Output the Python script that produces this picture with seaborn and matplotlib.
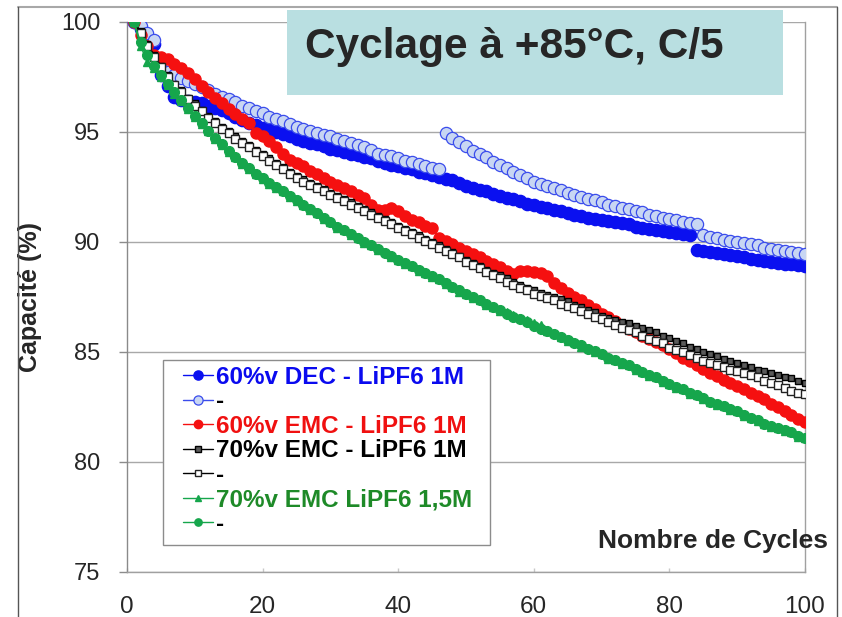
import numpy as np
import matplotlib
matplotlib.use("Agg")
import matplotlib.pyplot as plt
from matplotlib.patches import Rectangle
from matplotlib.lines import Line2D
import seaborn as sns

cycles = list(range(1, 101))

dec_1m = [
    100.0, 99.7, 99.3, 99.0, 97.6, 97.1, 96.6, 96.45, 96.4, 96.35,
    96.3, 96.2, 96.1, 96.0, 95.85, 95.7, 95.55, 95.4, 95.3, 95.2,
    95.1, 95.0, 94.9, 94.8, 94.7, 94.6, 94.5, 94.45, 94.35, 94.25,
    94.2, 94.1, 94.0, 93.95, 93.85, 93.8, 93.7, 93.6, 93.5, 93.45,
    93.35, 93.3, 93.2, 93.15, 93.05, 92.95, 92.85, 92.8, 92.7, 92.55,
    92.45, 92.35, 92.3, 92.2, 92.1, 92.0, 91.95, 91.85, 91.75, 91.7,
    91.6, 91.55, 91.45, 91.4, 91.3, 91.25, 91.2, 91.1, 91.05, 91.0,
    90.95, 90.9, 90.85, 90.8, 90.7, 90.65, 90.6, 90.55, 90.5, 90.45,
    90.4, 90.35, 90.3, 89.65, 89.6, 89.55, 89.5, 89.45, 89.4, 89.35,
    89.3, 89.25, 89.2, 89.15, 89.1, 89.05, 89.0, 89.0, 88.95, 88.9,
]
dec_open = [
    100.0, 99.8, 99.5, 99.2, 97.9, 97.75, 97.6, 97.45, 97.3, 97.2,
    97.05, 96.9, 96.75, 96.6, 96.5, 96.35, 96.2, 96.1, 95.95, 95.85,
    95.7, 95.6, 95.5, 95.35, 95.25, 95.15, 95.05, 94.95, 94.85, 94.8,
    94.7, 94.6, 94.5, 94.4, 94.3, 94.2, 94.0, 93.95, 93.9, 93.8,
    93.7, 93.65, 93.55, 93.45, 93.35, 93.3, 94.95, 94.75, 94.55, 94.35,
    94.15, 94.0, 93.85, 93.65, 93.5, 93.35, 93.2, 93.05, 92.9, 92.75,
    92.65, 92.55, 92.45, 92.35, 92.25, 92.15, 92.05, 91.95, 91.9, 91.8,
    91.7, 91.65, 91.55, 91.5, 91.4, 91.35, 91.25, 91.2, 91.1, 91.05,
    91.0, 90.9, 90.85, 90.8, 90.3, 90.25, 90.2, 90.1, 90.05, 90.0,
    89.95, 89.9, 89.85, 89.75, 89.7, 89.65, 89.6, 89.55, 89.5, 89.45,
]
emc60_1m = [
    100.0, 99.4, 98.9, 98.5, 98.4, 98.3, 98.1, 97.9, 97.7, 97.4,
    97.1, 96.8, 96.55, 96.3, 96.05, 95.8, 95.6, 95.4, 94.95, 94.8,
    94.6, 94.3, 94.0, 93.75, 93.6, 93.45, 93.25, 93.1, 92.9, 92.75,
    92.6, 92.45, 92.3, 92.15, 92.0, 91.7, 91.45, 91.45, 91.55, 91.4,
    91.2, 91.0, 90.9, 90.75, 90.65, 90.2, 90.05, 89.9, 89.75, 89.6,
    89.45, 89.3, 89.15, 89.0, 88.85, 88.7, 88.55, 88.7, 88.7, 88.65,
    88.6, 88.45, 88.15, 87.9, 87.7, 87.5, 87.35, 87.15, 86.95, 86.75,
    86.6, 86.4, 86.25, 86.05, 85.9, 85.75, 85.6, 85.45, 85.3, 85.15,
    84.95, 84.75, 84.6, 84.4, 84.25, 84.05, 83.9, 83.75, 83.6, 83.45,
    83.3, 83.15, 83.0, 82.85, 82.65, 82.5, 82.3, 82.15, 81.95, 81.8,
]
emc70_1m = [
    100.0, 99.6, 99.0, 98.5, 98.0, 97.6, 97.2, 96.9, 96.55, 96.3,
    96.0, 95.75, 95.5, 95.25, 95.05, 94.8, 94.6, 94.4, 94.2, 94.0,
    93.8, 93.6, 93.4, 93.2, 93.0, 92.85, 92.7, 92.55, 92.4, 92.25,
    92.1, 91.95, 91.8, 91.65, 91.5, 91.35, 91.2, 91.05, 90.9, 90.75,
    90.6, 90.45, 90.3, 90.15, 90.0, 89.85, 89.7, 89.55, 89.35, 89.2,
    89.05, 88.9, 88.75, 88.6, 88.5, 88.35, 88.2, 88.05, 87.9, 87.8,
    87.7, 87.6, 87.5, 87.4, 87.3, 87.15, 87.05, 86.9, 86.8, 86.65,
    86.55, 86.45, 86.35, 86.3, 86.2, 86.1, 86.0, 85.9, 85.75, 85.65,
    85.5, 85.4, 85.25, 85.15, 85.0, 84.9, 84.8, 84.7, 84.6, 84.5,
    84.4, 84.3, 84.2, 84.15, 84.05, 83.95, 83.85, 83.8, 83.7, 83.6,
]
emc70_open = [
    100.0, 99.5, 98.9, 98.4, 97.95, 97.5, 97.15, 96.8, 96.5, 96.2,
    95.95, 95.65, 95.4, 95.15, 94.95, 94.7, 94.5, 94.3, 94.1, 93.9,
    93.7, 93.5, 93.3, 93.1, 92.9, 92.75, 92.6, 92.45, 92.3, 92.15,
    92.0, 91.85, 91.7, 91.55, 91.4, 91.25, 91.1, 90.95, 90.8, 90.65,
    90.5, 90.35, 90.2, 90.05, 89.9, 89.75, 89.6, 89.45, 89.3, 89.1,
    88.95, 88.8, 88.65, 88.5, 88.35, 88.2, 88.05, 87.9, 87.8, 87.65,
    87.55, 87.45, 87.35, 87.2, 87.1, 87.0, 86.85, 86.75, 86.6, 86.5,
    86.35, 86.25, 86.1, 86.0, 85.9, 85.75, 85.6, 85.5, 85.4, 85.2,
    85.1, 85.0, 84.85, 84.75, 84.6, 84.5, 84.4, 84.3, 84.2, 84.15,
    84.05, 83.95, 83.85, 83.7, 83.6, 83.5, 83.35, 83.25, 83.15, 83.1,
]
emc70_15m = [
    100.0, 98.9, 98.2, 97.9, 97.5, 97.15, 96.75, 96.4, 96.05, 95.7,
    95.35, 95.05, 94.7, 94.4, 94.1, 93.85, 93.55, 93.3, 93.1, 92.85,
    92.65, 92.45, 92.3, 92.05, 91.85, 91.7, 91.45, 91.3, 91.05, 90.9,
    90.65, 90.55, 90.3, 90.2, 89.95, 89.85, 89.65, 89.55, 89.3, 89.2,
    89.0, 88.9, 88.7, 88.6, 88.4, 88.3, 88.1, 87.95, 87.75, 87.65,
    87.45, 87.35, 87.15, 87.05, 86.85, 86.8, 86.7, 86.55, 86.45, 86.3,
    86.25, 85.95, 85.85, 85.7, 85.5, 85.45, 85.25, 85.2, 85.0, 84.9,
    84.7, 84.65, 84.45, 84.4, 84.2, 84.1, 83.9, 83.85, 83.65, 83.55,
    83.35, 83.3, 83.1, 83.05, 82.85, 82.75, 82.6, 82.55, 82.35, 82.3,
    82.1, 82.0, 81.85, 81.75, 81.6, 81.55, 81.4, 81.35, 81.15, 81.1,
]
emc70_15m_open = [
    100.0, 99.1, 98.5, 98.0, 97.6, 97.2, 96.8, 96.45, 96.1, 95.75,
    95.4, 95.05, 94.75, 94.45, 94.15, 93.85, 93.6, 93.35, 93.1, 92.9,
    92.7, 92.5, 92.3, 92.1, 91.9, 91.7, 91.5, 91.3, 91.1, 90.9,
    90.7, 90.55, 90.35, 90.2, 90.0, 89.85, 89.7, 89.5, 89.35, 89.2,
    89.05, 88.9, 88.75, 88.6, 88.45, 88.3, 88.15, 87.95, 87.8, 87.65,
    87.5, 87.35, 87.2, 87.05, 86.9, 86.75, 86.6, 86.5, 86.35, 86.2,
    86.05, 85.95, 85.8, 85.7, 85.55, 85.4, 85.3, 85.15, 85.05, 84.9,
    84.75, 84.65, 84.5, 84.4, 84.25, 84.1, 83.95, 83.85, 83.7, 83.55,
    83.4, 83.3, 83.15, 83.05, 82.9, 82.75, 82.65, 82.55, 82.4, 82.3,
    82.15, 82.0, 81.9, 81.75, 81.65, 81.55, 81.45, 81.35, 81.2, 81.1,
]

# cycle indices where a test interruption breaks the curve (new segment starts)
breaks = {
    "dec_1m": [4, 83],
    "dec_open": [4, 46, 84],
}

labels = [
    "60%v DEC - LiPF6 1M",
    "-",
    "60%v EMC - LiPF6 1M",
    "70%v EMC - LiPF6 1M",
    "-",
    "70%v EMC LiPF6 1,5M",
    "-",
]
label_colors = ["#0a0aef", "black", "#f01010", "black", "black", "#1e8a28", "black"]
x_ticks = [0, 20, 40, 60, 80, 100]
y_ticks = [75, 80, 85, 90, 95, 100]

sns.set_style("white")
plt.rcParams["font.family"] = ["Liberation Sans", "DejaVu Sans"]

fig = plt.figure(figsize=(8.42, 6.17), dpi=100)
ax = fig.add_axes([127 / 842, 1 - 572 / 617, 678 / 842, 550 / 617])

green = "#16a64c"
styles = [
    ("dec_1m", dec_1m, dict(color="#0a10f0", marker="o", markersize=8.8, markerfacecolor="#0a10f0",
                            markeredgecolor="#0a10f0", markeredgewidth=1)),
    ("dec_open", dec_open, dict(color="#3a4cec", marker="o", markersize=8.8, markerfacecolor="#c8d6f3",
                                markeredgecolor="#3a4cec", markeredgewidth=0.9)),
    ("emc60", emc60_1m, dict(color="#f51010", marker="o", markersize=8, markerfacecolor="#f51010",
                             markeredgecolor="#f51010", markeredgewidth=1)),
    ("emc70", emc70_1m, dict(color="black", marker="s", markersize=5, markerfacecolor="#5a5a5a",
                             markeredgecolor="black", markeredgewidth=1)),
    ("emc70_open", emc70_open, dict(color="black", marker="s", markersize=6, markerfacecolor="white",
                                    markeredgecolor="#222222", markeredgewidth=1)),
    ("emc70_15", emc70_15m, dict(color=green, marker="^", markersize=5.5, markerfacecolor=green,
                                 markeredgecolor=green, markeredgewidth=1)),
    ("emc70_15_open", emc70_15m_open, dict(color=green, marker="o", markersize=7, markerfacecolor=green,
                                           markeredgecolor=green, markeredgewidth=1)),
]

handles = []
for i, (name, vals, kw) in enumerate(styles):
    cuts = [0] + breaks.get(name, []) + [len(vals)]
    for a, b in zip(cuts[:-1], cuts[1:]):
        sns.lineplot(x=cycles[a:b], y=vals[a:b], ax=ax, linewidth=1, zorder=3 + i, **kw)
    handles.append(Line2D([], [], linewidth=1, **kw))

ax.set_xlim(0, 100)
ax.set_ylim(75, 100)
ax.set_xticks(x_ticks)
ax.set_yticks(y_ticks)
ax.tick_params(axis="y", length=6, width=1, color="#8c8c8c", direction="out",
               pad=13, labelsize=17, left=True)
ax.tick_params(axis="x", length=3, width=1, color="#c8c8c8", direction="in",
               pad=17, labelsize=17.5, bottom=True)
ax.yaxis.grid(True, color="#a8a8a8", linewidth=1)
ax.xaxis.grid(False)
ax.set_axisbelow(True)
for side in ["left", "right", "bottom"]:
    ax.spines[side].set_color("#a0a0a0")
    ax.spines[side].set_linewidth(1)
ax.spines["left"].set_color("#8a8a8a")
ax.spines["top"].set_visible(False)

ax.set_ylabel("Capacité (%)", fontsize=18, fontweight="bold")
ax.yaxis.set_label_coords(-0.125, 0.5)
ax.set_xlabel("")
ax.text(1.034, 0.056, "Nombre de Cycles", transform=ax.transAxes, ha="right",
        va="center", fontsize=19, fontweight="bold", clip_on=False, zorder=20)

# legend frame drawn separately so it can be wider than the entries
ax.add_patch(Rectangle(((163 - 127) / 678, (572 - 545) / 550), (490 - 163) / 678, 185 / 550,
                       transform=ax.transAxes, facecolor="white", edgecolor="#8c8c8c",
                       linewidth=1, zorder=29))
leg = ax.legend(handles, labels, loc="upper left", bbox_to_anchor=((183 - 127) / 678, (572 - 366) / 550),
                fontsize=17.5, frameon=False, handlelength=1.25, handletextpad=0.1,
                labelspacing=0.06, borderpad=0, borderaxespad=0, markerscale=0.75)
leg.set_zorder(30)
for t, c in zip(leg.get_texts(), label_colors):
    t.set_color(c)
    t.set_fontweight("bold")

# title box
fig.add_artist(Rectangle((287 / 842, 1 - 95 / 617), 496 / 842, 85 / 617,
                         transform=fig.transFigure, facecolor="#b9dfe1",
                         edgecolor="none", zorder=40))
fig.text(305 / 842, 1 - 47 / 617, "Cyclage à +85°C, C/5", ha="left", va="center",
         fontsize=30.5, fontweight="bold", zorder=41)

# outer frame
fig.add_artist(Line2D([18 / 842, 837 / 842], [1 - 7 / 617, 1 - 7 / 617],
                      transform=fig.transFigure, color="#a8a8a8", linewidth=1.5))
fig.add_artist(Line2D([18 / 842, 18 / 842], [0, 1 - 7 / 617],
                      transform=fig.transFigure, color="#555555", linewidth=1))
fig.add_artist(Line2D([837 / 842, 837 / 842], [0, 1 - 7 / 617],
                      transform=fig.transFigure, color="#555555", linewidth=1))

fig.savefig("out.png", dpi=100)
